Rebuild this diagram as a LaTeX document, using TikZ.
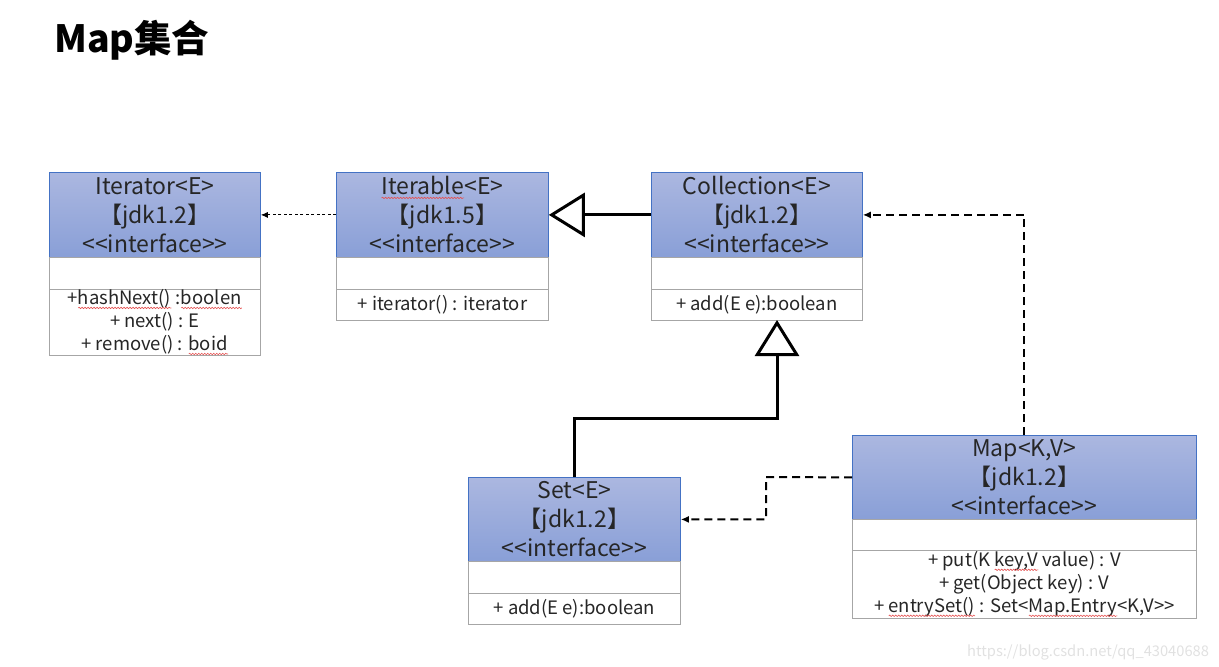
\documentclass[tikz,border=0pt]{standalone}
\usepackage{fontspec}
\setmainfont{Noto Sans CJK SC}
\usetikzlibrary{arrows.meta,decorations.pathmorphing}
\definecolor{hdrtop}{RGB}{171,183,224}
\definecolor{hdrbot}{RGB}{137,159,215}
\definecolor{hdrline}{RGB}{68,114,196}
\definecolor{grayline}{RGB}{166,166,166}
\definecolor{wm}{RGB}{225,225,225}
\definecolor{spell}{RGB}{230,80,80}
\newsavebox\rwbox
\newcommand{\rw}[1]{\sbox\rwbox{#1}\rlap{\usebox\rwbox}\tikz[baseline=3pt,x=1pt,y=1pt]\draw[spell,line width=0.6pt,decorate,decoration={snake,amplitude=0.7pt,segment length=3pt}] (0,0) -- (\wd\rwbox,0);}
\tikzset{
  hdr/.style={draw=hdrline, line width=0.8pt, top color=hdrtop, bottom color=hdrbot, anchor=north west, inner sep=0pt, align=center, font=\fontsize{23}{29}\selectfont, text=black!85},
  cmp/.style={draw=grayline, line width=0.8pt, fill=white, anchor=north west, inner sep=0pt, align=center, font=\fontsize{18.5}{23}\selectfont, text=black!85},
  dashthin/.style={draw=black, line width=0.9pt, dash pattern=on 3pt off 2.5pt, -{Latex[length=7pt,width=6pt]}},
  dashthick/.style={draw=black, line width=2pt, dash pattern=on 8pt off 5pt, -{Latex[length=8pt,width=7pt]}},
  inh/.style={draw=black, line width=3pt, -{Triangle[open,length=36pt,width=44pt]}}
}
\begin{document}
\begin{tikzpicture}[x=1pt,y=-1pt]
\useasboundingbox (0,0) rectangle (1219,667);
\node[anchor=base west, font=\fontsize{37.5}{44}\selectfont\bfseries, inner sep=0pt] (title) at (54,52) {Map集合};

% Iterator
\node[hdr, minimum width=211pt, minimum height=85pt] (itH) at (49,172) {Iterator<E>\\【jdk1.2】\\<{}<interface>{}>};
\node[cmp, minimum width=211pt, minimum height=32pt] (itA) at (49,257) {};
\node[cmp, minimum width=211pt, minimum height=66pt] (itM) at (49,289) {+\rw{hashNext()} :\rw{boolen}\\+ next() : E\\+ remove() : \rw{boid}};

% Iterable
\node[hdr, minimum width=212pt, minimum height=85pt] (ibH) at (336,172) {\rw{Iterable}<E>\\【jdk1.5】\\<{}<interface>{}>};
\node[cmp, minimum width=212pt, minimum height=32pt] (ibA) at (336,257) {};
\node[cmp, minimum width=212pt, minimum height=31pt] (ibM) at (336,289) {+ iterator() : iterator};

% Collection
\node[hdr, minimum width=211pt, minimum height=85pt] (coH) at (651,172) {Collection<E>\\【jdk1.2】\\<{}<interface>{}>};
\node[cmp, minimum width=211pt, minimum height=32pt] (coA) at (651,257) {};
\node[cmp, minimum width=211pt, minimum height=31pt] (coM) at (651,289) {+ add(E e):boolean};

% Set
\node[hdr, minimum width=212pt, minimum height=84pt] (seH) at (468,477) {Set<E>\\【jdk1.2】\\<{}<interface>{}>};
\node[cmp, minimum width=212pt, minimum height=32pt] (seA) at (468,561) {};
\node[cmp, minimum width=212pt, minimum height=31pt] (seM) at (468,593) {+ add(E e):boolean};

% Map
\node[hdr, minimum width=344pt, minimum height=84pt] (maH) at (852,435) {Map<K,V>\\【jdk1.2】\\<{}<interface>{}>};
\node[cmp, minimum width=344pt, minimum height=31pt] (maA) at (852,519) {};
\node[cmp, minimum width=344pt, minimum height=68pt] (maM) at (852,550) {+ put(K \rw{key,V} value) : V\\+ get(Object key) : V\\+ \rw{entrySet()} : Set<\rw{Map.Entry}<K,V>{}>};

% connectors
\coordinate (coIn) at (777,320);
\coordinate (bendS) at (766,477);
\draw[dashthin] (ibH.west) -- (itH.east);
\draw[inh] (coH.west) -- (ibH.east);
\draw[inh] (seH.north) |- (777,418) -- (coIn);
\draw[dashthick] (maH.north) |- (coH.east);
\draw[dashthick] (maH.west) -- (bendS) |- (seH.east);

% watermark
\node[anchor=base west, font=\fontsize{14.7}{18}\selectfont, text=wm, inner sep=0pt] (wmk) at (967,656) {https://blog.csdn.net/qq\_43040688};
\end{tikzpicture}
\end{document}
